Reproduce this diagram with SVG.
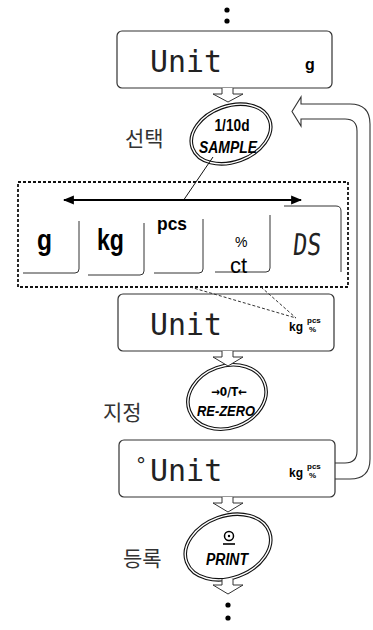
<svg xmlns="http://www.w3.org/2000/svg" width="373" height="630" viewBox="0 0 373 630">
<defs>
<style>
.disp{fill:#fff;stroke:#333;stroke-width:1.2}
.seg{font-family:"DejaVu Sans Mono",monospace;font-size:30px;fill:#222}
.unit{font-family:"Liberation Sans",Arial,sans-serif;font-weight:bold;fill:#000}
.ko{font-family:"Noto Sans CJK KR",sans-serif;font-size:21px;fill:#333}
.key{font-family:"Liberation Sans",Arial,sans-serif;font-weight:bold;fill:#000;text-anchor:middle}
.ell1{fill:#fff;stroke:#111;stroke-width:3.6}
.ell2{fill:none;stroke:#fff;stroke-width:1.4}
.harrow{fill:#fff;stroke:#333;stroke-width:1}
.kbox{fill:none;stroke:#333;stroke-width:1}
.dash{fill:none;stroke:#333;stroke-width:1;stroke-dasharray:3 2}
</style>
<marker id="ah" viewBox="0 0 10 10" refX="9" refY="5" markerWidth="5" markerHeight="5" orient="auto-start-reverse">
<path d="M0,1 L10,5 L0,9 z" fill="#000"/>
</marker>
</defs>
<g id="dots-top"><circle cx="227" cy="10" r="2.6"/><circle cx="227" cy="21" r="2.6"/></g>
<g id="display1">
<rect class="disp" x="117" y="31" width="215" height="57" rx="5"/>
<text class="seg" x="150" y="72" textLength="72" lengthAdjust="spacingAndGlyphs">Unit</text>
<text class="unit" x="310" y="70" font-size="16" text-anchor="middle">g</text>
</g>
<g id="key-sample">
<ellipse class="ell1" cx="231" cy="134" rx="41" ry="28" transform="rotate(-20 231 134)"/>
<ellipse class="ell2" cx="231" cy="134" rx="41" ry="28" transform="rotate(-20 231 134)"/>
<text class="key" x="232" y="131" font-size="16" textLength="35" lengthAdjust="spacingAndGlyphs">1/10d</text>
<text class="key" x="228" y="153" font-size="17" font-style="italic" textLength="58" lengthAdjust="spacingAndGlyphs">SAMPLE</text>
</g>
<text class="ko" x="125" y="146">선택</text>
<g id="unit-select">
<rect x="18" y="182" width="330" height="105" fill="none" stroke="#111" stroke-width="1.8" stroke-dasharray="3 2"/>
<path class="kbox" d="M79,221 V269 Q79,273 75,273 H23"/>
<path class="kbox" d="M144,223 V271 Q144,275 140,275 H88"/>
<path class="kbox" d="M203,219 V269 Q203,273 199,273 H154"/>
<path class="kbox" d="M270,215 V268 Q270,272 266,272 H215"/>
<path class="kbox" d="M284,206 H336 Q341,206 341,211 V272"/>
<text class="unit" x="37" y="250" font-size="30" textLength="15" lengthAdjust="spacingAndGlyphs">g</text>
<text class="unit" x="97" y="250" font-size="30" textLength="27" lengthAdjust="spacingAndGlyphs">kg</text>
<text class="unit" x="157" y="230" font-size="18" textLength="30" lengthAdjust="spacingAndGlyphs">pcs</text>
<text x="235" y="247" font-family="Liberation Sans,Arial,sans-serif" font-size="14">%</text>
<text x="230" y="273" font-family="Liberation Sans,Arial,sans-serif" font-size="22">ct</text>
<text class="seg" x="292" y="255" font-size="32" textLength="28" lengthAdjust="spacingAndGlyphs" transform="skewX(-6)" dx="27">DS</text>
</g>
<g id="display2">
<rect class="disp" x="118" y="294" width="216" height="57" rx="5"/>
<text class="seg" x="150" y="335" textLength="72" lengthAdjust="spacingAndGlyphs">Unit</text>
<text class="unit" x="289" y="331" font-size="12">kg</text>
<text class="unit" x="307" y="323" font-size="8">pcs</text>
<text class="unit" x="309" y="332" font-size="8">%</text>
</g>
<g id="key-rezero">
<ellipse class="ell1" cx="227" cy="397" rx="40" ry="31" transform="rotate(-20 227 397)"/>
<ellipse class="ell2" cx="227" cy="397" rx="40" ry="31" transform="rotate(-20 227 397)"/>
<text x="229" y="396" font-family="DejaVu Sans,sans-serif" font-weight="bold" font-size="12" text-anchor="middle" textLength="36" lengthAdjust="spacingAndGlyphs">→0/T←</text>
<text class="key" x="226" y="416" font-size="15" font-style="italic" textLength="58" lengthAdjust="spacingAndGlyphs">RE-ZERO</text>
</g>
<text class="ko" x="103" y="420">지정</text>
<g id="display3">
<rect class="disp" x="119" y="440" width="216" height="57" rx="5"/>
<text class="seg"><tspan x="135" y="472" font-size="20">°</tspan><tspan x="150" y="481">Unit</tspan></text>
<text class="unit" x="289" y="477" font-size="12">kg</text>
<text class="unit" x="307" y="469" font-size="8">pcs</text>
<text class="unit" x="309" y="478" font-size="8">%</text>
</g>
<g id="key-print">
<ellipse class="ell1" cx="228" cy="547" rx="44" ry="31" transform="rotate(-20 228 547)"/>
<ellipse class="ell2" cx="228" cy="547" rx="44" ry="31" transform="rotate(-20 228 547)"/>
<circle cx="229" cy="536" r="4.5" fill="none" stroke="#000" stroke-width="1.5"/>
<circle cx="229" cy="536" r="1.2"/>
<line x1="223" y1="544" x2="235" y2="544" stroke="#000" stroke-width="1.6"/>
<text class="key" x="227" y="565" font-size="16" font-style="italic" textLength="42" lengthAdjust="spacingAndGlyphs">PRINT</text>
</g>
<text class="ko" x="123" y="566">등록</text>
<g id="dots-bottom"><circle cx="228" cy="605" r="2.6"/><circle cx="228" cy="618" r="2.6"/></g>
<g id="connectors">
<path class="harrow" d="M222,88 V94 H213 L228,102 L243,94 H233 V88"/>
<path class="harrow" d="M222,351 V357 H213 L228,366 L243,357 H233 V351"/>
<path class="harrow" d="M222,497 V503 H213 L228,512 L243,503 H233 V497"/>
<path class="harrow" d="M222,579 V585 H213 L228,594 L243,585 H233 V579"/>
<path fill="none" stroke="#333" stroke-width="1.1" d="M335,479 H350 Q370,479 370,459 V124 Q370,104 350,104 H301 V97 L292,111.5 L301,126 V119 H345 Q357,119 357,131 V451 Q357,463 345,463 H335"/>
<line x1="213" y1="157" x2="183" y2="201" stroke="#111" stroke-width="1"/>
<line x1="64" y1="200" x2="301" y2="200" stroke="#000" stroke-width="2.2" marker-start="url(#ah)" marker-end="url(#ah)"/>
<path class="dash" d="M190,287 L296,318 M261,287 L296,318"/>
</g>
</svg>
